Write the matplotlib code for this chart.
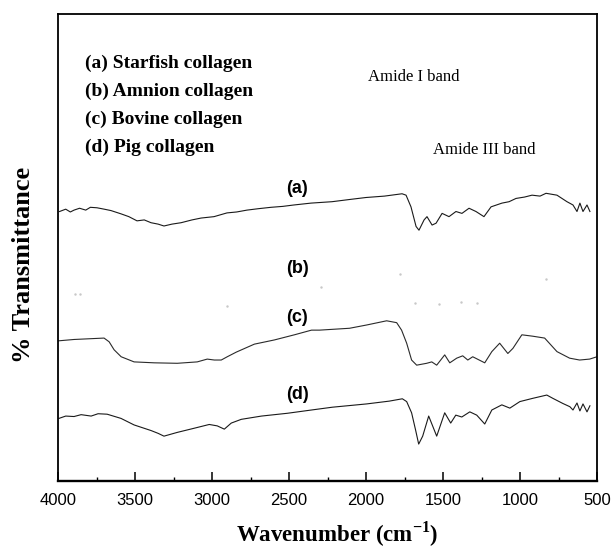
import numpy as np
import matplotlib
matplotlib.use('Agg')
import matplotlib.pyplot as plt
from matplotlib.ticker import MultipleLocator

plt.rcParams['font.family'] = ['Liberation Serif', 'DejaVu Serif']
plt.rcParams['mathtext.fontset'] = 'custom'
plt.rcParams['mathtext.rm'] = 'Liberation Serif:bold'

# --- FT-IR spectra (wavenumber cm-1, % transmittance, arbitrary offset) ---
a_wn = [3990, 3950, 3920, 3896, 3860, 3820, 3790, 3747, 3700, 3656, 3591, 3540, 3487, 3440,
        3396, 3350, 3312, 3260, 3201, 3130, 3071, 2987, 2903, 2840, 2773, 2700, 2617, 2540,
        2468, 2357, 2221, 2100, 2000, 1880, 1766, 1740, 1708, 1675, 1656, 1623, 1604, 1571,
        1545, 1506, 1461, 1416, 1377, 1331, 1286, 1234, 1188, 1117, 1071, 1026, 970, 922,
        870, 831, 760, 695, 656, 630, 611, 591, 565, 546]
a_t = [57.7, 58.2, 57.6, 58.0, 58.4, 58.0, 58.6, 58.5, 58.2, 57.9, 57.2, 56.6, 55.7, 55.9,
       55.3, 55.0, 54.6, 55.0, 55.3, 55.9, 56.3, 56.6, 57.4, 57.6, 58.0, 58.3, 58.6, 58.8,
       59.1, 59.5, 59.8, 60.3, 60.7, 61.0, 61.5, 61.2, 58.7, 54.5, 53.7, 55.9, 56.6, 54.8,
       55.2, 57.3, 56.6, 57.7, 57.3, 58.4, 57.7, 56.6, 58.7, 59.5, 59.8, 60.5, 60.8, 61.2,
       61.0, 61.6, 61.2, 59.8, 59.1, 57.7, 59.5, 57.7, 59.1, 57.7]

# (b) Amnion collagen: almost washed out in the scan, only faint specks remain
b_wn = [3890, 3860, 2903, 2292, 1779, 1682, 1526, 1383, 1279, 831]
b_t = [40.1, 40.1, 37.5, 41.5, 44.3, 38.1, 37.9, 38.3, 38.1, 43.3]

c_wn = [4000, 3896, 3701, 3668, 3636, 3590, 3506, 3375, 3226, 3096, 3031, 2985, 2940, 2901,
        2842, 2725, 2595, 2465, 2354, 2302, 2107, 1996, 1866, 1801, 1769, 1736, 1704, 1671,
        1606, 1573, 1541, 1489, 1456, 1411, 1372, 1339, 1307, 1229, 1183, 1132, 1079, 1046,
        988, 917, 840, 760, 678, 613, 548, 500]
c_t = [30.0, 30.3, 30.6, 29.8, 28.1, 26.6, 25.5, 25.3, 25.2, 25.5, 26.1, 25.9, 25.9, 26.6,
       27.6, 29.3, 30.2, 31.3, 32.3, 32.3, 32.7, 33.4, 34.3, 33.9, 32.3, 29.5, 25.9, 24.8,
       25.2, 25.5, 24.8, 27.0, 25.3, 26.3, 26.8, 25.9, 26.6, 25.3, 27.7, 29.5, 27.3, 28.4,
       31.3, 31.0, 30.6, 27.7, 26.3, 25.9, 26.1, 26.6]

d_wn = [3994, 3950, 3896, 3850, 3785, 3740, 3681, 3591, 3506, 3396, 3350, 3312, 3226, 3115,
        3018, 2966, 2920, 2875, 2810, 2679, 2510, 2354, 2218, 1996, 1849, 1764, 1736, 1704,
        1678, 1658, 1632, 1593, 1541, 1489, 1450, 1417, 1378, 1326, 1281, 1229, 1183, 1118,
        1066, 1001, 917, 826, 787, 722, 676, 656, 630, 611, 591, 565, 546]
d_t = [13.4, 13.9, 13.8, 14.2, 13.9, 14.4, 14.3, 13.4, 12.0, 10.8, 10.2, 9.6, 10.4, 11.3,
       12.1, 11.8, 11.1, 12.4, 13.2, 13.9, 14.5, 15.2, 15.8, 16.5, 17.1, 17.6, 17.0, 14.6,
       10.9, 7.9, 9.6, 13.9, 9.6, 14.6, 12.4, 14.1, 13.7, 14.8, 14.1, 12.2, 15.2, 16.3,
       15.6, 17.0, 17.7, 18.4, 17.7, 16.6, 15.9, 15.2, 16.7, 15.0, 16.5, 14.8, 16.1]

legend_lines = ['(a) Starfish collagen', '(b) Amnion collagen',
                '(c) Bovine collagen', '(d) Pig collagen']
curve_tags = ['(a)', '(b)', '(c)', '(d)']
tag_pos = [62.7, 45.6, 35.1, 18.6]

fig = plt.figure(figsize=(6.12, 5.54), dpi=100)
ax = fig.add_axes([0.0948, 0.1318, 0.8807, 0.8430])

ax.plot(a_wn, a_t, color='#1a1a1a', lw=0.8)
ax.plot(b_wn, b_t, linestyle='none', marker='.', ms=1.5, color='#c8c8c8')
ax.plot(c_wn, c_t, color='#2a2a2a', lw=0.8)
ax.plot(d_wn, d_t, color='#1a1a1a', lw=0.8)

ax.set_xlim(4000, 500)
ax.set_ylim(0, 100)
ax.xaxis.set_major_locator(MultipleLocator(500))
ax.xaxis.set_minor_locator(MultipleLocator(250))
ax.tick_params(axis='x', which='major', direction='in', length=6.5, width=1.1, pad=9,
               labelsize=12, top=False)
ax.tick_params(axis='x', which='minor', direction='in', length=3, width=1.0, top=False)
ax.tick_params(axis='y', left=False, labelleft=False)
for lab in ax.get_xticklabels():
    lab.set_family('Liberation Sans')
for sp in ax.spines.values():
    sp.set_linewidth(1.3)
ax.spines['bottom'].set_linewidth(1.7)

# legend written as plain text lines
for i, s in enumerate(legend_lines):
    ax.text(0.05, 0.895 - i * 0.06, s, transform=ax.transAxes, fontsize=14,
            fontweight='bold', va='center', ha='left')

for tag, yv in zip(curve_tags, tag_pos):
    ax.text(2448, yv, tag, fontsize=13, fontweight='bold', family='Liberation Sans',
            ha='center', va='center')

ax.text(1688, 86.5, 'Amide I band', fontsize=12, ha='center', va='center')
ax.text(1234, 70.9, 'Amide III band', fontsize=12, ha='center', va='center')

fig.text(0.039, 0.522, '% Transmittance', rotation=90, fontsize=19, fontweight='bold',
         ha='center', va='center')
fig.text(0.5515, 0.036, r'Wavenumber (cm$^{-1}$)', fontsize=16.5, fontweight='bold',
         ha='center', va='center')

fig.savefig('out.png', dpi=100)
